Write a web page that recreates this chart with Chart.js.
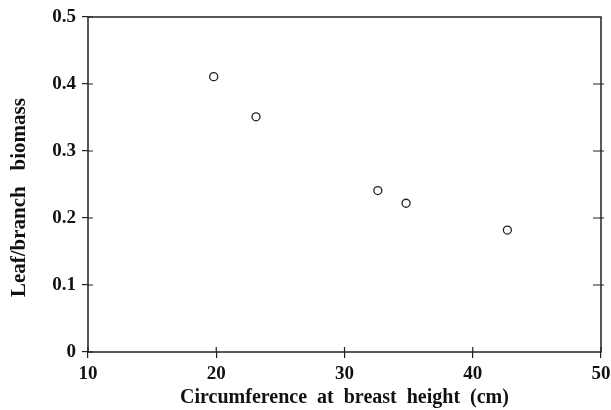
<!DOCTYPE html>
<html>
<head>
<meta charset="utf-8">
<script src="https://cdn.jsdelivr.net/npm/chart.js@4/dist/chart.umd.min.js"></script>
<style>
  html, body { margin: 0; padding: 0; background: #fff; }
  #wrap { width: 611px; height: 410px; }
</style>
</head>
<body>
<div id="wrap"><canvas id="myChart"></canvas></div>
<script>
const circumference = [19.8, 23.1, 32.6, 34.8, 42.7];
const leafBranch = [0.411, 0.351, 0.241, 0.222, 0.182];
const xTicks = [10, 20, 30, 40, 50];
const yTicks = [0, 0.1, 0.2, 0.3, 0.4, 0.5];

const ink = '#222';
const family = '"Liberation Serif", "Times New Roman", serif';
const tickFont = { family, size: 19, weight: 'bold' };
const titleFont = { family, size: 20, weight: 'bold' };

// frame on all four sides + ticks that cross the axis lines
const framePlugin = {
  id: 'frame',
  afterDraw(chart) {
    const { ctx, chartArea: a, scales } = chart;
    ctx.save();
    ctx.strokeStyle = ink;
    ctx.lineWidth = 1.5;
    ctx.strokeRect(a.left, a.top, a.right - a.left, a.bottom - a.top);
    ctx.lineWidth = 1.2;
    ctx.beginPath();
    yTicks.forEach(v => {
      const py = scales.y.getPixelForValue(v);
      ctx.moveTo(a.left, py); ctx.lineTo(a.left + 5, py);
      if (v > 0 && v < 0.5) { ctx.moveTo(a.right - 8, py); ctx.lineTo(a.right + 3, py); }
    });
    xTicks.forEach(v => {
      const px = scales.x.getPixelForValue(v);
      ctx.moveTo(px, a.bottom); ctx.lineTo(px, a.bottom - 5);
    });
    ctx.stroke();
    ctx.restore();
  }
};

const ctx = document.getElementById('myChart').getContext('2d');
new Chart(ctx, {
  type: 'scatter',
  data: {
    datasets: [{
      data: circumference.map((c, i) => ({ x: c, y: leafBranch[i] })),
      pointStyle: 'circle',
      pointRadius: 4,
      pointHoverRadius: 4,
      borderColor: ink,
      borderWidth: 1.3,
      backgroundColor: '#fff'
    }]
  },
  plugins: [framePlugin],
  options: {
    responsive: true,
    maintainAspectRatio: false,
    animation: false,
    events: [],
    layout: { padding: { top: 17, right: 10, left: 0, bottom: 0 } },
    plugins: { legend: { display: false }, tooltip: { enabled: false } },
    scales: {
      x: {
        type: 'linear',
        min: 10, max: 50,
        afterBuildTicks: s => { s.ticks = xTicks.map(v => ({ value: v })); },
        afterFit: s => { s.height = 58; s.paddingLeft = 0; s.paddingRight = 0; },
        grid: { drawOnChartArea: false, tickLength: 6, color: ink, lineWidth: 1.2 },
        border: { display: false },
        ticks: { color: '#111', font: tickFont, padding: 5, maxRotation: 0 },
        title: { display: true, text: 'Circumference  at  breast  height  (cm)', color: '#111', font: titleFont, padding: { top: 1, bottom: 0 } }
      },
      y: {
        type: 'linear',
        min: 0, max: 0.5,
        afterBuildTicks: s => { s.ticks = yTicks.map(v => ({ value: v })); },
        afterFit: s => { s.width = 88; s.paddingTop = 0; s.paddingBottom = 0; },
        grid: { drawOnChartArea: false, tickLength: 6, color: ink, lineWidth: 1.2 },
        border: { display: false },
        ticks: { color: '#111', font: tickFont, padding: 6, callback: v => String(Math.round(v * 10) / 10) },
        // trailing spaces push the label a little lower, as in the original
        title: { display: true, text: 'Leaf/branch   biomass     ', color: '#111', font: { family, size: 21, weight: 'bold' }, padding: { top: 7, bottom: 0 } }
      }
    }
  }
});
</script>
</body>
</html>
